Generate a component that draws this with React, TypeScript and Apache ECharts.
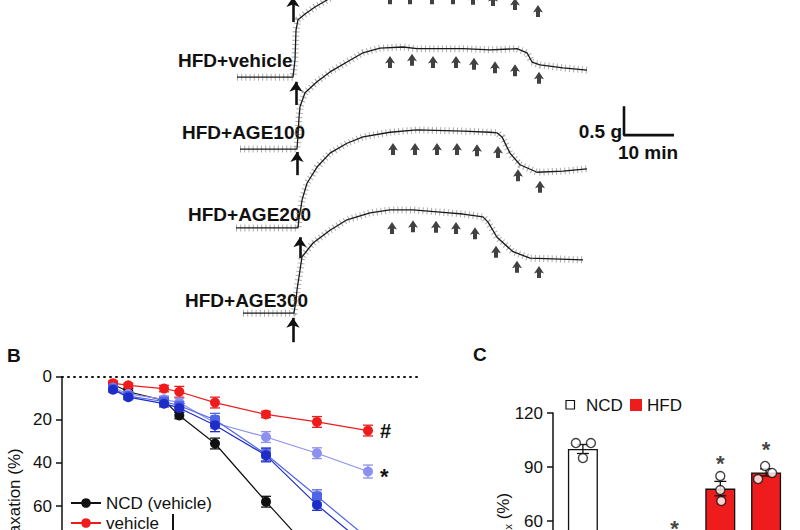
import React, { useEffect, useRef } from 'react';
import * as echarts from 'echarts';

const FONT = '"Liberation Sans", Arial, Helvetica, sans-serif';

// ---------- Panel A: isometric tension traces (time in min, tension in g, traces stacked) ----------
const traceVehicle = [[1.4, 4.67], [12.6, 4.67], [13, 4.97], [13.2, 5.48], [13.6, 5.66], [15, 5.76], [17, 5.88], [19.4, 6.0], [23, 6.17]];
const traceAGE100 = [[2, 3.43], [13.4, 3.43], [13.6, 3.67], [13.8, 3.97], [14, 4.16], [15, 4.4], [17.4, 4.59], [20, 4.76], [23.4, 4.93], [26.6, 5.09], [30, 5.17], [34.6, 5.19], [37.4, 5.16], [46.6, 5.16], [52, 5.14], [57.4, 5.16], [59.4, 5.09], [60.4, 4.93], [62, 4.88], [66.6, 4.83], [71.4, 4.79]];
const traceAGE200 = [[1.2, 2.07], [13.6, 2.07], [13.8, 2.24], [14.2, 2.43], [14.4, 2.55], [15.4, 2.84], [17.4, 3.12], [20, 3.36], [23.4, 3.53], [26.6, 3.64], [32, 3.72], [37.4, 3.76], [46.6, 3.74], [52, 3.72], [53.4, 3.71], [54.4, 3.64], [56, 3.36], [58, 3.16], [61.4, 3.03], [66.6, 3.05], [71.4, 3.09]];
const traceAGE300 = [[2.6, 0.6], [12.8, 0.6], [13.2, 0.83], [13.4, 1.0], [14.4, 1.57], [16.6, 1.81], [20, 2.03], [23.4, 2.21], [28, 2.33], [32, 2.38], [36.6, 2.38], [42.6, 2.34], [46.6, 2.31], [50.6, 2.26], [51.6, 2.17], [53.4, 1.91], [56.6, 1.66], [60, 1.55], [70.6, 1.52]];

// ACh dose arrows (time, tension)
const dosesVehicle = [[32, 6.03], [36, 6.03], [40.4, 6.03], [44.6, 6.03], [48.6, 6.02], [52.6, 6.0], [57, 5.93], [61.6, 5.81]];
const dosesAGE100 = [[32, 4.93], [36.4, 4.97], [40.6, 4.93], [45.2, 4.93], [48.8, 4.9], [53, 4.84], [57, 4.79], [61.8, 4.66]];
const dosesAGE200 = [[32.6, 3.43], [37, 3.43], [41.4, 3.43], [45.4, 3.43], [49.4, 3.41], [53.6, 3.38], [57.6, 2.98], [62, 2.78]];
const dosesAGE300 = [[32.4, 2.07], [36.6, 2.1], [41.2, 2.09], [45.2, 2.07], [49, 1.98], [53.2, 1.66], [57.4, 1.4], [61.8, 1.31]];

// PE arrows: [time, tail tension, tip tension]
const peArrows = [[12.6, 5.62, 6.05], [13.2, 4.19, 4.59], [13.4, 2.98, 3.38], [14, 1.55, 1.91], [12.6, 0.1, 0.52]];

// scale bar: 0.5 g by 10 min
const scaleBar = [[78.8, 4.17], [78.8, 3.67], [88.8, 3.67]];

const traceLabels = ['HFD+vehicle', 'HFD+AGE100', 'HFD+AGE200', 'HFD+AGE300'];

// ---------- Panel B: concentration-response (relaxation %) ----------
const logACh = [-10, -9.7, -9, -8.7, -8, -7, -6, -5];
const relaxNCD = [3.5, 7, 11, 18, 31, 58, 84, 96];
const relaxVehicle = [3, 4, 5.5, 7, 12, 17.5, 21, 25];
const relaxAGE100 = [5, 8, 10.5, 12, 21.5, 28, 35.5, 44];
const relaxAGE200 = [5.5, 9, 11.5, 13.5, 20, 36, 55.5, 75];
const relaxAGE300 = [6, 9.5, 12.5, 14.5, 22.5, 36.5, 59.5, 79];
const seNCD = [1, 1.5, 1.5, 1.5, 2.5, 2.5, 3, 2];
const seVehicle = [1, 1, 1.5, 2.5, 2.5, 1.5, 2.5, 2.5];
const seAGE100 = [1, 1, 1.5, 2, 2.5, 2.5, 2.5, 3];
const seAGE200 = [1, 1, 1.5, 2, 3, 3, 3, 3];
const seAGE300 = [1, 1, 1.5, 2, 3, 3, 2.5, 3];
const bTicks = [0, 20, 40, 60, 80, 100];

// ---------- Panel C: Rmax bars ----------
const groups = ['NCD', 'HFD vehicle', 'HFD AGE100', 'HFD AGE200', 'HFD AGE300'];
const rmax = [100, 26, 45, 78, 87];
const rmaxSE = [2.5, 3, 3, 4, 2];
const rmaxPoints = [[103.3, 103.3, 95], [23, 26, 29], [41, 45, 49], [85, 77.2, 71.1], [90.6, 83.3, 86.7]];
const starGroups = [2, 3, 4];
const starLevels = [56, 92, 100];

const C_RED = '#ee1c1c';
const C_BLACK = '#111111';
const C_LB = '#8c91f0';
const C_MB = '#5064e6';
const C_DB = '#1e2dc8';

const pointOffsets = [[-7, 8, 0], [-7, 8, 0], [-7, 8, 0], [0, 0, 1], [-1, -8, 6]];

function errRender(color: string, cap: number) {
  return (params: any, api: any) => {
    const x = api.value(0);
    const y = api.value(1);
    const e = api.value(2);
    const a = api.coord([x, y - e]);
    const b = api.coord([x, y + e]);
    const w = cap / 2;
    const st = { stroke: color, lineWidth: 1.3 };
    return {
      type: 'group',
      children: [
        { type: 'line', shape: { x1: a[0], y1: a[1], x2: b[0], y2: b[1] }, style: st },
        { type: 'line', shape: { x1: a[0] - w, y1: a[1], x2: a[0] + w, y2: a[1] }, style: st },
        { type: 'line', shape: { x1: b[0] - w, y1: b[1], x2: b[0] + w, y2: b[1] }, style: st },
      ],
    };
  };
}

const ARROW = 'path://M5,0 L10,7.5 L7,6.5 L7,12 L3,12 L3,6.5 L0,7.5 Z';

export default function App() {
  const ref = useRef<HTMLDivElement>(null);
  useEffect(() => {
    if (!ref.current) return;
    const chart = echarts.init(ref.current, undefined, { renderer: 'svg' });

    const traceSeries: any[] = [];
    [traceVehicle, traceAGE100, traceAGE200, traceAGE300].forEach((tr, i) => {
      traceSeries.push({
        type: 'line', xAxisIndex: 0, yAxisIndex: 0, data: tr, symbol: 'none', silent: true,
        lineStyle: { color: '#8a8a8a', width: 7, type: [1, 3.2], opacity: 0.7 }, z: 1, name: 'fuzz' + i,
      });
      traceSeries.push({
        type: 'line', xAxisIndex: 0, yAxisIndex: 0, data: tr, symbol: 'none', silent: true,
        lineStyle: { color: '#1a1a1a', width: 1.3 }, z: 2, name: traceLabels[i],
      });
    });
    [dosesVehicle, dosesAGE100, dosesAGE200, dosesAGE300].forEach((d) => {
      traceSeries.push({
        type: 'scatter', xAxisIndex: 0, yAxisIndex: 0, data: d, symbol: ARROW, symbolSize: [10, 12],
        itemStyle: { color: C_BLACK }, clip: false, silent: true, z: 3,
      });
    });
    traceSeries.push({
      type: 'lines', coordinateSystem: 'cartesian2d', xAxisIndex: 0, yAxisIndex: 0, clip: false,
      symbol: ['none', 'arrow'], symbolSize: 10, silent: true,
      lineStyle: { color: C_BLACK, width: 2.6, opacity: 1 },
      data: peArrows.map(([t, b, tip]) => ({ coords: [[t, b], [t, tip]] })),
      z: 3,
    });
    traceSeries.push({
      type: 'line', xAxisIndex: 0, yAxisIndex: 0, data: scaleBar, symbol: 'none', silent: true,
      lineStyle: { color: C_BLACK, width: 2.6 }, z: 3,
    });

    const mk = (vals: number[], lastLabel?: any) =>
      logACh.map((x, i) => {
        if (i === logACh.length - 1 && lastLabel) return { value: [x, vals[i]], label: lastLabel };
        return [x, vals[i]];
      });
    const bSeries: any[] = [];
    const bDefs = [
      { name: 'NCD (vehicle)', vals: relaxNCD, se: seNCD, color: C_BLACK, symbol: 'circle', label: null },
      { name: 'vehicle', vals: relaxVehicle, se: seVehicle, color: C_RED, symbol: 'circle',
        label: { show: true, position: 'right', distance: 7, formatter: '#', fontSize: 20, fontWeight: 'bold', color: C_BLACK, fontFamily: FONT } },
      { name: 'AGE100', vals: relaxAGE100, se: seAGE100, color: C_LB, symbol: 'circle',
        label: { show: true, position: 'right', distance: 7, formatter: '*', fontSize: 22, fontWeight: 'bold', color: C_BLACK, offset: [0, 5], fontFamily: FONT } },
      { name: 'AGE200', vals: relaxAGE200, se: seAGE200, color: C_MB, symbol: 'roundRect', label: null },
      { name: 'AGE300', vals: relaxAGE300, se: seAGE300, color: C_DB, symbol: 'circle', label: null },
    ];
    bDefs.forEach((d, k) => {
      bSeries.push({
        type: 'custom', xAxisIndex: 1, yAxisIndex: 1, renderItem: errRender(d.color, 10),
        data: logACh.map((x, i) => [x, d.vals[i], d.se[i]]), encode: { x: 0, y: 1 }, z: 2, silent: true,
      });
      const s: any = {
        type: 'line', name: d.name, xAxisIndex: 1, yAxisIndex: 1, data: mk(d.vals, d.label),
        symbol: d.symbol, symbolSize: 10, showAllSymbol: true, color: d.color,
        lineStyle: { color: d.color, width: 1.2 }, itemStyle: { color: d.color }, z: 4 + k, silent: true,
      };
      if (k === 0) {
        s.markLine = {
          silent: true, symbol: ['none', 'none'], label: { show: false },
          lineStyle: { type: [1, 5], width: 2, color: C_BLACK, cap: 'round' },
          data: [{ yAxis: 0 }],
        };
      }
      bSeries.push(s);
    });

    const cSeries: any[] = [
      {
        type: 'bar', xAxisIndex: 2, yAxisIndex: 2, barWidth: 30, silent: true,
        data: rmax.map((v, i) => ({ value: v, itemStyle: { color: i === 0 ? '#ffffff' : C_RED, borderColor: C_BLACK, borderWidth: 1.3 } })),
        z: 2,
      },
      {
        type: 'custom', xAxisIndex: 2, yAxisIndex: 2, renderItem: errRender(C_BLACK, 12), silent: true,
        data: rmax.map((v, i) => [i, v, rmaxSE[i]]), encode: { x: 0, y: 1 }, z: 3,
      },
      {
        type: 'scatter', xAxisIndex: 2, yAxisIndex: 2, symbol: 'circle', symbolSize: 9, silent: true,
        itemStyle: { color: '#ffffff', borderColor: C_BLACK, borderWidth: 1.4 },
        data: rmaxPoints.flatMap((pts, i) => pts.map((v, j) => ({ value: [i, v], symbolOffset: [pointOffsets[i][j], 0] }))),
        z: 4,
      },
      {
        type: 'scatter', xAxisIndex: 2, yAxisIndex: 2, symbolSize: 1, silent: true,
        itemStyle: { color: 'rgba(0,0,0,0)' },
        label: { show: true, position: 'inside', formatter: '*', fontSize: 22, fontWeight: 'bold', color: C_BLACK, fontFamily: FONT },
        data: starGroups.map((g, i) => [g, starLevels[i]]), z: 5,
      },
    ];

    const axisCommon = {
      axisLine: { show: true, onZero: false, lineStyle: { color: C_BLACK, width: 1.5 } },
      axisTick: { show: true, length: 6, lineStyle: { color: C_BLACK, width: 1.5 } },
      splitLine: { show: false },
    };

    const text = (t: string, x: number, y: number, size: number, bold: boolean, align = 'left', extra: any = {}) => ({
      type: 'text', x, y, silent: true, ...extra,
      style: { text: t, fontSize: size, fontWeight: bold ? 'bold' : 'normal', fontFamily: FONT, fill: C_BLACK, align, verticalAlign: 'middle' },
    });

    const option: any = {
      animation: false,
      backgroundColor: '#ffffff',
      textStyle: { fontFamily: FONT },
      grid: [
        { left: 230, top: 0, width: 460, height: 348, containLabel: false, outerBoundsMode: 'none' },
        { left: 62, top: 376.7, width: 357, height: 215.5, containLabel: false, outerBoundsMode: 'none' },
        { left: 560, top: 413, width: 229, height: 216, containLabel: false, outerBoundsMode: 'none' },
      ],
      xAxis: [
        { gridIndex: 0, type: 'value', min: 0, max: 92, show: false },
        { gridIndex: 1, type: 'value', min: -11, max: -4, show: false },
        { gridIndex: 2, type: 'category', data: groups, show: false },
      ],
      yAxis: [
        { gridIndex: 0, type: 'value', min: 0, max: 6, show: false },
        {
          gridIndex: 1, type: 'value', min: bTicks[0], max: bTicks[bTicks.length - 1], interval: 20, inverse: true, ...axisCommon,
          axisLabel: { fontSize: 17, color: C_BLACK, margin: 10, fontFamily: FONT },
        },
        {
          gridIndex: 2, type: 'value', min: 0, max: 120, interval: 30, offset: 7, ...axisCommon,
          axisLabel: { fontSize: 17, color: C_BLACK, margin: 10, fontFamily: FONT },
        },
      ],
      legend: {
        data: ['NCD (vehicle)', 'vehicle', 'AGE100', 'AGE200', 'AGE300'],
        orient: 'vertical', left: 70, top: 493, width: 200, height: 130, itemWidth: 30, itemHeight: 12, itemGap: 0, padding: 0,
        selectedMode: false,
        textStyle: { fontSize: 17, lineHeight: 20, color: C_BLACK, fontFamily: FONT },
      },
      graphic: [
        text(traceLabels[0], 178, 60, 19, true),
        text(traceLabels[1], 182, 132, 19, true),
        text(traceLabels[2], 188, 214, 19, true),
        text(traceLabels[3], 185, 300, 19, true),
        text('0.5 g', 622, 131, 19, true, 'right'),
        text('10 min', 648, 152, 19, true, 'center'),
        text('B', 7, 355, 19, true),
        text('C', 473, 354, 19, true),
        text('Relaxation (%)', 14, 504, 17, false, 'center', { rotation: Math.PI / 2 }),
        {
          type: 'text', x: 503, y: 525, rotation: Math.PI / 2, silent: true,
          style: {
            text: '{a|R}{b|max}{a| (%)}', align: 'center', verticalAlign: 'middle',
            rich: {
              a: { fontSize: 17, fontFamily: FONT, fill: C_BLACK, lineHeight: 20 },
              b: { fontSize: 11, fontFamily: FONT, fill: C_BLACK, lineHeight: 12, verticalAlign: 'bottom' },
            },
          },
        },
        { type: 'rect', shape: { x: 566, y: 400.5, width: 8.5, height: 8.5 }, style: { fill: '#ffffff', stroke: C_BLACK, lineWidth: 1.2 }, silent: true },
        text('NCD', 586, 405, 17, false),
        { type: 'rect', shape: { x: 630, y: 399, width: 12, height: 12 }, style: { fill: C_RED }, silent: true },
        text('HFD', 647, 405, 17, false),
        { type: 'line', shape: { x1: 173, y1: 514, x2: 173, y2: 545 }, style: { stroke: C_BLACK, lineWidth: 2 }, silent: true },
      ],
      series: [...traceSeries, ...bSeries, ...cSeries],
    };
    chart.setOption(option);
    return () => chart.dispose();
  }, []);
  return <div ref={ref} style={{ position: 'fixed', left: 0, top: 0, width: 800, height: 530, background: '#fff' }} />;
}
